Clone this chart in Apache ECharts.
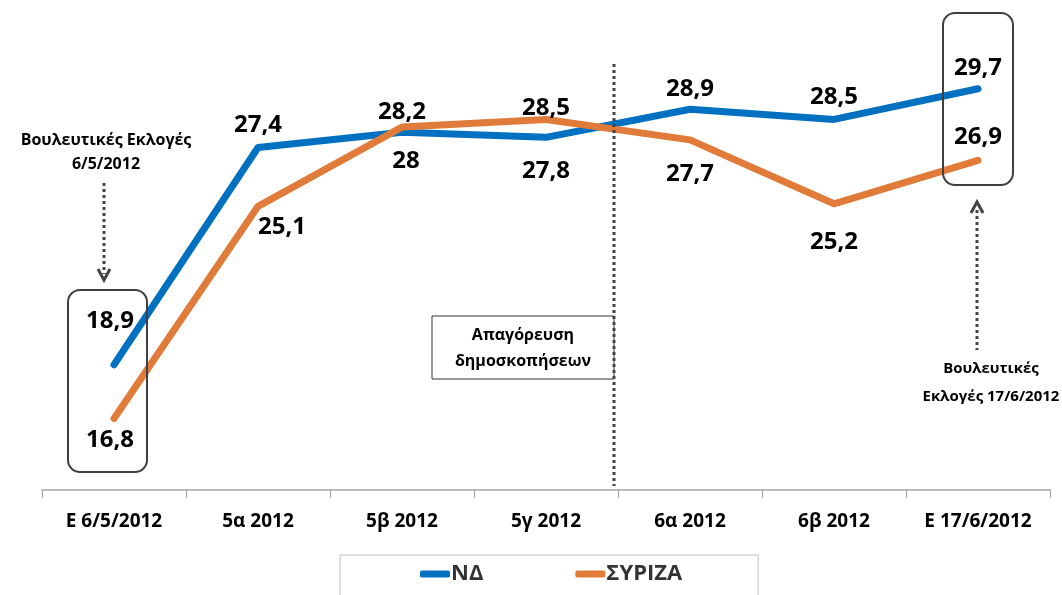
<!DOCTYPE html>
<html lang="el" style="height: 100%">
<head>
  <meta charset="utf-8">
</head>
<body style="height: 100%; margin: 0; background: #fff">
  <div id="container" style="width: 1062px; height: 595px"></div>

  <script type="text/javascript" src="https://cdn.jsdelivr.net/npm/echarts@6/dist/echarts.min.js"></script>
  <script type="text/javascript">
    // δεδομένα
    var categories = ['E 6/5/2012', '5α 2012', '5β 2012', '5γ 2012', '6α 2012', '6β 2012', 'E 17/6/2012'];
    var ndValues = [18.9, 27.4, 28, 27.8, 28.9, 28.5, 29.7];
    var syrizaValues = [16.8, 25.1, 28.2, 28.5, 27.7, 25.2, 26.9];
    // πάνω ή κάτω από τη γραμμή
    var ndLabelPos = ['top', 'top', 'bottom', 'bottom', 'top', 'top', 'top'];
    var syrizaLabelPos = ['bottom', 'bottom', 'top', 'top', 'bottom', 'bottom', 'top'];

    var FONT = '"Open Sans", sans-serif';
    var dom = document.getElementById('container');
    var myChart = echarts.init(dom, null, { renderer: 'canvas' });

    function fmt(p) {
      return String(p.value).replace('.', ',');
    }

    function buildData(values, positions, offsets) {
      return values.map(function (v, i) {
        return {
          value: v,
          label: { position: positions[i], offset: offsets[i] || [0, 0] }
        };
      });
    }

    var ndOffsets = [[-4, -24], [0, -2], [4, 9], [0, 14], [0, 0], [0, -2], [0, -1]];
    var syrizaOffsets = [[-4, 2], [24, 1], [0, 5], [0, 9], [0, 14], [0, 18], [0, -3]];

    var labelStyle = {
      show: true,
      distance: 8,
      formatter: fmt,
      fontFamily: FONT,
      fontWeight: 'bold',
      fontSize: 24,
      color: '#000'
    };

    var option = {
      animation: false,
      grid: { left: 42, right: 12, top: 30, bottom: 105 },
      xAxis: {
        type: 'category',
        data: categories,
        boundaryGap: true,
        axisLine: { lineStyle: { color: '#a6a6a6', width: 1.5 } },
        axisTick: { show: true, length: 8, lineStyle: { color: '#a6a6a6' } },
        axisLabel: {
          margin: 22,
          fontFamily: FONT,
          fontWeight: 'bold',
          fontSize: 19,
          color: '#000'
        }
      },
      yAxis: {
        type: 'value',
        min: 14,
        max: 32,
        show: false,
        splitLine: { show: false }
      },
      legend: {
        left: 340,
        top: 555,
        height: 40,
        padding: [8, 76, 20, 80],
        borderColor: '#bfbfbf',
        borderWidth: 1,
        itemGap: 92,
        itemWidth: 30,
        itemHeight: 7,
        icon: 'roundRect',
        textStyle: { fontFamily: FONT, fontWeight: 'bold', fontSize: 22, color: '#333', padding: [0, 0, 0, -4] },
        data: ['ΝΔ', 'ΣΥΡΙΖΑ']
      },
      series: [
        {
          name: 'ΝΔ',
          type: 'line',
          data: buildData(ndValues, ndLabelPos, ndOffsets),
          symbol: 'circle',
          symbolSize: 0.1,
          showSymbol: true,
          lineStyle: { color: '#0070c0', width: 7, cap: 'round', join: 'round' },
          itemStyle: { color: '#0070c0' },
          z: 3,
          label: labelStyle
        },
        {
          name: 'ΣΥΡΙΖΑ',
          type: 'line',
          data: buildData(syrizaValues, syrizaLabelPos, syrizaOffsets),
          symbol: 'circle',
          symbolSize: 0.1,
          showSymbol: true,
          lineStyle: { color: '#e07b39', width: 7, cap: 'round', join: 'round' },
          itemStyle: { color: '#e07b39' },
          z: 4,
          label: labelStyle
        }
      ],
      graphic: [
        // κάθετη διακεκομμένη γραμμή
        {
          type: 'line',
          shape: { x1: 614, y1: 64, x2: 614, y2: 486 },
          style: { stroke: '#444', lineWidth: 3, lineDash: [3, 3] },
          z: 10
        },
        {
          type: 'rect',
          shape: { x: 432, y: 316, width: 182, height: 63 },
          style: { fill: '#fff', stroke: '#333', lineWidth: 1 },
          z: 9
        },
        {
          type: 'text',
          x: 523,
          y: 348,
          style: {
            text: 'Απαγόρευση\nδημοσκοπήσεων',
            align: 'center',
            verticalAlign: 'middle',
            font: 'bold 16px "Open Sans", sans-serif',
            lineHeight: 26,
            fill: '#000'
          },
          z: 11
        },
        // πλαίσια εκλογών
        {
          type: 'rect',
          shape: { x: 68, y: 290, width: 79, height: 182, r: 12 },
          style: { fill: 'none', stroke: '#404040', lineWidth: 2 },
          z: 8
        },
        {
          type: 'rect',
          shape: { x: 943, y: 13, width: 70, height: 172, r: 12 },
          style: { fill: 'none', stroke: '#404040', lineWidth: 2 },
          z: 8
        },
        {
          type: 'text',
          x: 106,
          y: 152,
          style: {
            text: 'Βουλευτικές Εκλογές\n6/5/2012',
            align: 'center',
            verticalAlign: 'middle',
            font: 'bold 16px "Open Sans", sans-serif',
            lineHeight: 24,
            fill: '#000'
          }
        },
        {
          type: 'line',
          shape: { x1: 104, y1: 183, x2: 104, y2: 274 },
          style: { stroke: '#444', lineWidth: 3, lineDash: [3, 3] }
        },
        {
          type: 'polyline',
          shape: { points: [[98, 269], [104, 280], [110, 269]] },
          style: { stroke: '#444', lineWidth: 3, fill: 'none' }
        },
        {
          type: 'line',
          shape: { x1: 977, y1: 210, x2: 977, y2: 350 },
          style: { stroke: '#444', lineWidth: 3, lineDash: [3, 3] }
        },
        {
          type: 'polyline',
          shape: { points: [[971, 213], [977, 202], [983, 213]] },
          style: { stroke: '#444', lineWidth: 3, fill: 'none' }
        },
        {
          type: 'text',
          x: 991,
          y: 383,
          style: {
            text: 'Βουλευτικές\nΕκλογές 17/6/2012',
            align: 'center',
            verticalAlign: 'middle',
            font: 'bold 15px "Open Sans", sans-serif',
            lineHeight: 28,
            fill: '#000'
          }
        }
      ]
    };

    myChart.setOption(option);
    window.addEventListener('resize', myChart.resize);
  </script>
</body>
</html>
